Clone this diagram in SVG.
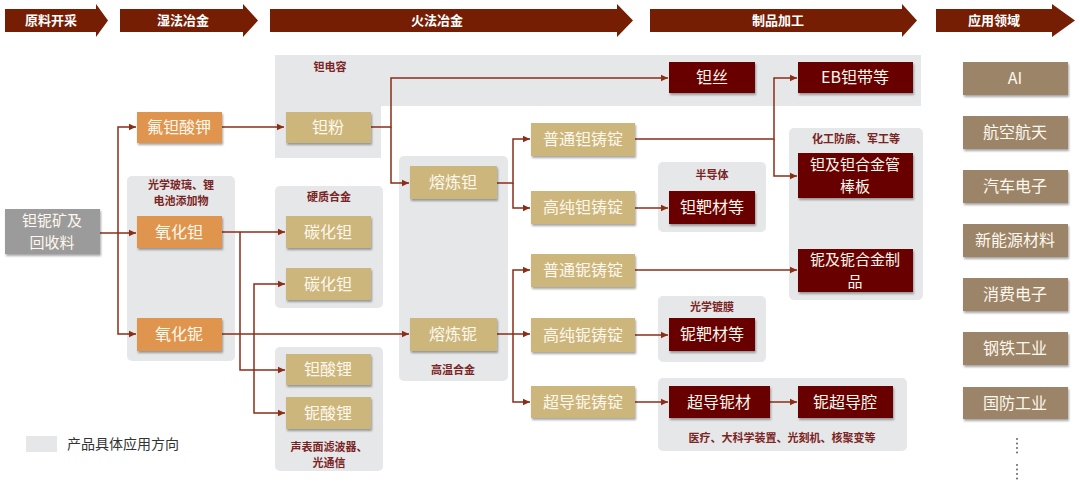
<svg xmlns="http://www.w3.org/2000/svg" width="1080" height="486" viewBox="0 0 1080 486">
<style>
text{font-family:"Noto Sans CJK SC","Noto Sans",sans-serif;}
.hd{fill:#761E04;}
.hdt{fill:#fff;font-size:13px;font-weight:bold;text-anchor:middle;}
.panel{fill:#E6E7E9;}
.pl{fill:#7A2424;font-size:11px;font-weight:bold;text-anchor:middle;}
.grey{fill:#9B9B9B;}
.or{fill:#E0954F;}
.tan{fill:#CDB67C;}
.dr{fill:#680303;}
.app{fill:#9C8468;}
.nt{fill:#FFF8EE;font-size:16px;text-anchor:middle;}
.nt2{fill:#FFF8EE;font-size:15px;text-anchor:middle;}
.cn{fill:none;stroke:#8A2E18;stroke-width:1.5;}
</style>
<defs>
<filter id="sh" x="-10%" y="-20%" width="125%" height="150%">
<feDropShadow dx="1" dy="2" stdDeviation="1" flood-color="#000" flood-opacity="0.35"/>
</filter>
<marker id="ah" markerWidth="8" markerHeight="8" refX="7" refY="4" orient="auto" markerUnits="userSpaceOnUse">
<path d="M0,0.8 L7,4 L0,7.2 Z" fill="#8A2E18"/>
</marker>
</defs>
<rect width="1080" height="486" fill="#fff"/>

<g id="headers">
<polygon class="hd" points="5,9 96,9 96,4 108,20.5 96,37 96,32 5,32"/>
<text class="hdt" x="51" y="25">原料开采</text>
<polygon class="hd" points="120,9 243,9 243,4 258,20.5 243,37 243,32 120,32"/>
<text class="hdt" x="183" y="25">湿法冶金</text>
<polygon class="hd" points="270,9 617,9 617,4 633,20.5 617,37 617,32 270,32"/>
<text class="hdt" x="437" y="25">火法冶金</text>
<polygon class="hd" points="650,9 902,9 902,4 917,20.5 902,37 902,32 650,32"/>
<text class="hdt" x="778" y="25">制品加工</text>
<polygon class="hd" points="936,9 1052,9 1052,4 1075,20.5 1052,37 1052,32 936,32"/>
<text class="hdt" x="994" y="25">应用领域</text>
</g>

<g id="panels">
<path class="panel" d="M275,55 H921 V106 H381 V158 H275 Z"/>
<text class="pl" x="330" y="71">钽电容</text>
<rect class="panel" x="127" y="176" width="108" height="185" rx="5"/>
<text class="pl"><tspan x="181" y="189">光学玻璃、锂</tspan><tspan x="181" y="205">电池添加物</tspan></text>
<rect class="panel" x="275" y="186" width="108" height="122" rx="5"/>
<text class="pl" x="329" y="201">硬质合金</text>
<rect class="panel" x="275" y="347" width="108" height="124" rx="5"/>
<text class="pl"><tspan x="329" y="451">声表面滤波器、</tspan><tspan x="329" y="467">光通信</tspan></text>
<rect class="panel" x="399" y="156" width="109" height="225" rx="5"/>
<text class="pl" x="453" y="374">高温合金</text>
<rect class="panel" x="658" y="162" width="108" height="70" rx="5"/>
<text class="pl" x="712" y="179">半导体</text>
<rect class="panel" x="658" y="296" width="108" height="66" rx="5"/>
<text class="pl" x="712" y="311">光学镀膜</text>
<rect class="panel" x="658" y="378" width="249" height="73" rx="5"/>
<text class="pl" x="782" y="442">医疗、大科学装置、光刻机、核聚变等</text>
<rect class="panel" x="789" y="128" width="134" height="172" rx="5"/>
<text class="pl" x="856" y="143">化工防腐、军工等</text>
</g>

<g id="connectors">
<path class="cn" d="M100,233 H136" marker-end="url(#ah)"/>
<path class="cn" d="M118,233 V127 H136" marker-end="url(#ah)"/>
<path class="cn" d="M118,233 V334 H136" marker-end="url(#ah)"/>
<path class="cn" d="M222,127 H284" marker-end="url(#ah)"/>
<path class="cn" d="M371,127 H391 V78 H668" marker-end="url(#ah)"/>
<path class="cn" d="M391,127 V183 H409" marker-end="url(#ah)"/>
<path class="cn" d="M222,232 H285" marker-end="url(#ah)"/>
<path class="cn" d="M240,232 V370 H285" marker-end="url(#ah)"/>
<path class="cn" d="M222,334 H409" marker-end="url(#ah)"/>
<path class="cn" d="M254,334 V284 H285" marker-end="url(#ah)"/>
<path class="cn" d="M254,334 V413 H285" marker-end="url(#ah)"/>
<path class="cn" d="M497,183 H513 V139 H530" marker-end="url(#ah)"/>
<path class="cn" d="M513,183 V208 H530" marker-end="url(#ah)"/>
<path class="cn" d="M497,334 H513 V270 H530" marker-end="url(#ah)"/>
<path class="cn" d="M513,334 H530" marker-end="url(#ah)"/>
<path class="cn" d="M513,334 V402 H530" marker-end="url(#ah)"/>
<path class="cn" d="M635,208 H668" marker-end="url(#ah)"/>
<path class="cn" d="M635,139 H774 V78 H797" marker-end="url(#ah)"/>
<path class="cn" d="M774,139 V176 H797" marker-end="url(#ah)"/>
<path class="cn" d="M635,270 H797" marker-end="url(#ah)"/>
<path class="cn" d="M635,335 H668" marker-end="url(#ah)"/>
<path class="cn" d="M635,402 H668" marker-end="url(#ah)"/>
<path class="cn" d="M770,402 H797" marker-end="url(#ah)"/>
</g>

<g id="n-ore"><rect class="grey" x="5" y="209" width="95" height="45" filter="url(#sh)"/><text class="nt2"><tspan x="52" y="226">钽铌矿及</tspan><tspan x="52" y="248">回收料</tspan></text></g>
<g id="n-kf"><rect class="or" x="137" y="112" width="85" height="31" filter="url(#sh)"/><text class="nt" x="179" y="133">氟钽酸钾</text></g>
<g id="n-ta2o5"><rect class="or" x="137" y="216" width="85" height="32" filter="url(#sh)"/><text class="nt" x="179" y="238">氧化钽</text></g>
<g id="n-nb2o5"><rect class="or" x="137" y="318" width="85" height="33" filter="url(#sh)"/><text class="nt" x="179" y="340">氧化铌</text></g>

<g id="n-tapowder"><rect class="tan" x="286" y="112" width="85" height="31" filter="url(#sh)"/><text class="nt" x="328" y="133">钽粉</text></g>
<g id="n-tac1"><rect class="tan" x="286" y="216" width="85" height="32" filter="url(#sh)"/><text class="nt" x="328" y="238">碳化钽</text></g>
<g id="n-tac2"><rect class="tan" x="286" y="268" width="85" height="32" filter="url(#sh)"/><text class="nt" x="328" y="290">碳化钽</text></g>
<g id="n-lita"><rect class="tan" x="286" y="354" width="85" height="31" filter="url(#sh)"/><text class="nt" x="328" y="375">钽酸锂</text></g>
<g id="n-linb"><rect class="tan" x="286" y="397" width="85" height="32" filter="url(#sh)"/><text class="nt" x="328" y="419">铌酸锂</text></g>

<g id="n-meltta"><rect class="tan" x="410" y="166" width="87" height="33" filter="url(#sh)"/><text class="nt" x="453" y="188">熔炼钽</text></g>
<g id="n-meltnb"><rect class="tan" x="410" y="318" width="87" height="33" filter="url(#sh)"/><text class="nt" x="453" y="340">熔炼铌</text></g>

<g id="n-ta-ingot"><rect class="tan" x="531" y="123" width="104" height="33" filter="url(#sh)"/><text class="nt" x="583" y="145">普通钽铸锭</text></g>
<g id="n-ta-hp"><rect class="tan" x="531" y="191" width="104" height="33" filter="url(#sh)"/><text class="nt" x="583" y="213">高纯钽铸锭</text></g>
<g id="n-nb-ingot"><rect class="tan" x="531" y="254" width="104" height="33" filter="url(#sh)"/><text class="nt" x="583" y="276">普通铌铸锭</text></g>
<g id="n-nb-hp"><rect class="tan" x="531" y="318" width="104" height="34" filter="url(#sh)"/><text class="nt" x="583" y="341">高纯铌铸锭</text></g>
<g id="n-nb-sc"><rect class="tan" x="531" y="386" width="104" height="32" filter="url(#sh)"/><text class="nt" x="583" y="408">超导铌铸锭</text></g>

<g id="n-tawire"><rect class="dr" x="669" y="62" width="86" height="31" filter="url(#sh)"/><text class="nt" x="712" y="83">钽丝</text></g>
<g id="n-eb"><rect class="dr" x="798" y="62" width="115" height="31" filter="url(#sh)"/><text class="nt" x="855" y="83">EB钽带等</text></g>
<g id="n-tatarget"><rect class="dr" x="669" y="191" width="86" height="33" filter="url(#sh)"/><text class="nt" x="712" y="213">钽靶材等</text></g>
<g id="n-nbtarget"><rect class="dr" x="669" y="318" width="86" height="33" filter="url(#sh)"/><text class="nt" x="712" y="340">铌靶材等</text></g>
<g id="n-scnb"><rect class="dr" x="669" y="386" width="101" height="32" filter="url(#sh)"/><text class="nt" x="719" y="408">超导铌材</text></g>
<g id="n-cavity"><rect class="dr" x="798" y="386" width="95" height="32" filter="url(#sh)"/><text class="nt" x="845" y="408">铌超导腔</text></g>
<g id="n-tapipe"><rect class="dr" x="798" y="153" width="115" height="45" filter="url(#sh)"/><text class="nt2"><tspan x="855" y="170">钽及钽合金管</tspan><tspan x="855" y="192">棒板</tspan></text></g>
<g id="n-nbprod"><rect class="dr" x="798" y="249" width="115" height="43" filter="url(#sh)"/><text class="nt2"><tspan x="855" y="265">铌及铌合金制</tspan><tspan x="855" y="287">品</tspan></text></g>

<g id="n-app-ai"><rect class="app" x="963" y="62" width="105" height="33" filter="url(#sh)"/><text class="nt" x="1015" y="84">AI</text></g>
<g id="n-app-aero"><rect class="app" x="963" y="116" width="105" height="33" filter="url(#sh)"/><text class="nt" x="1015" y="138">航空航天</text></g>
<g id="n-app-auto"><rect class="app" x="963" y="170" width="105" height="33" filter="url(#sh)"/><text class="nt" x="1015" y="192">汽车电子</text></g>
<g id="n-app-energy"><rect class="app" x="963" y="224" width="105" height="33" filter="url(#sh)"/><text class="nt" x="1015" y="246">新能源材料</text></g>
<g id="n-app-consumer"><rect class="app" x="963" y="278" width="105" height="33" filter="url(#sh)"/><text class="nt" x="1015" y="300">消费电子</text></g>
<g id="n-app-steel"><rect class="app" x="963" y="332" width="105" height="33" filter="url(#sh)"/><text class="nt" x="1015" y="354">钢铁工业</text></g>
<g id="n-app-defense"><rect class="app" x="963" y="387" width="105" height="32" filter="url(#sh)"/><text class="nt" x="1015" y="409">国防工业</text></g>
<g id="dots" fill="#555">
<circle cx="1017" cy="439" r="0.9"/><circle cx="1017" cy="443.5" r="0.9"/><circle cx="1017" cy="448" r="0.9"/><circle cx="1017" cy="452.5" r="0.9"/>
<circle cx="1017" cy="465" r="0.9"/><circle cx="1017" cy="469.5" r="0.9"/><circle cx="1017" cy="474" r="0.9"/><circle cx="1017" cy="478.5" r="0.9"/>
</g>

<g id="legend">
<rect class="panel" x="26" y="436" width="31" height="16"/>
<text x="67" y="449" font-size="14" fill="#333">产品具体应用方向</text>
</g>
</svg>
